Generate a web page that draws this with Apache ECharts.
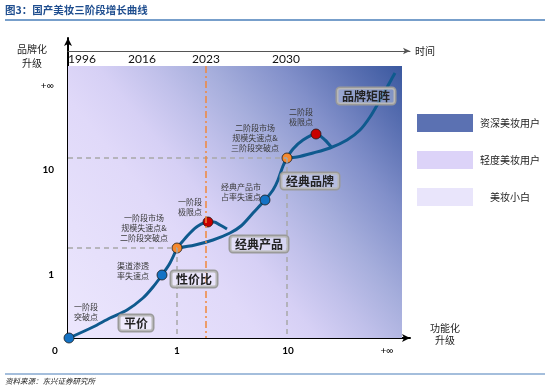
<!DOCTYPE html>
<html><head><meta charset="utf-8">
<script src="https://cdn.jsdelivr.net/npm/echarts@6/dist/echarts.min.js"></script>
<style>html,body{margin:0;padding:0;background:#fff}#c{width:550px;height:389px}</style>
</head><body><div id="c"></div>
<script>
// ---------- DATA ----------
const yearLabels = ['1996', '2016', '2023', '2030'];
const yearPos = [0.14, 0.74, 1.38, 2.18];
const xTickLabels = ['0', '1', '10', '+∞'];
const xTickPos = [0, 1.09, 2.20, 3.19];
const yTickLabels = ['1', '10', '+∞'];
const yTickPos = [0.63, 1.68, 2.52];

const stage1Curve = [[0.01, 0.00], [0.25, 0.11], [0.42, 0.20], [0.59, 0.28], [0.75, 0.40], [0.85, 0.51], [0.94, 0.63], [1.02, 0.75], [1.09, 0.90]];
const stage1Peak = [[1.09, 0.90], [1.14, 0.96], [1.22, 1.05], [1.30, 1.12], [1.40, 1.16], [1.46, 1.16], [1.52, 1.13], [1.59, 1.09]];
const stage2Curve = [[1.09, 0.90], [1.27, 0.93], [1.45, 0.98], [1.62, 1.05], [1.73, 1.12], [1.85, 1.25], [1.97, 1.38], [2.05, 1.48], [2.10, 1.58], [2.15, 1.72], [2.19, 1.80]];
const stage2Peak = [[2.19, 1.80], [2.25, 1.89], [2.35, 1.98], [2.48, 2.04], [2.57, 1.98], [2.64, 1.90]];
const stage3Curve = [[2.19, 1.80], [2.29, 1.81], [2.45, 1.85], [2.62, 1.90], [2.79, 1.98], [2.92, 2.08], [3.02, 2.21], [3.12, 2.38], [3.22, 2.56], [3.27, 2.65]];

const keyPoints = [[0.01, 0.00], [0.94, 0.63], [1.09, 0.90], [1.40, 1.16], [1.97, 1.38], [2.19, 1.80], [2.48, 2.04]];
const keyKinds = ['blue', 'blue', 'orange', 'red', 'blue', 'orange', 'red'];
const keyNotes = ['一阶段\n突破点', '渠道渗透\n率失速点', '一阶段市场\n规模失速点&\n二阶段突破点', '一阶段\n极限点',
  '经典产品市\n占率失速点', '二阶段市场\n规模失速点&\n三阶段突破点', '二阶段\n极限点'];

const stageNames = ['平价', '性价比', '经典产品', '经典品牌', '品牌矩阵'];
const stageAnchors = [[0.68, 0.15], [1.26, 0.59], [1.91, 0.94], [2.42, 1.57], [2.98, 2.42]];

const legendNames = ['资深美妆用户', '轻度美妆用户', '美妆小白'];
const zoneExtent = [3.34, 2.72];

// ---------- LAYOUT / STYLE ----------
const noteOffsets = [[17, -26], [-29, -4], [-33, -20], [-18, -15], [-24, -8], [-32, -20], [-15, -17]];
const kindColor = { blue: '#1472c4', orange: '#f5882e', red: '#c80000' };
const legendColors = ['#5b71b2', '#dcd3f8', '#e9e5fb'];
const CJK = '"Noto Sans CJK SC", "Noto Sans", sans-serif';
const NUM = 'Lato, "Liberation Sans", sans-serif';
const curveColor = '#0f5a8e';

function pick(vals, labels, v) {
  for (let i = 0; i < vals.length; i++) if (Math.abs(vals[i] - v) < 1e-6) return labels[i];
  return '';
}

const chart = echarts.init(document.getElementById('c'), null, { renderer: 'canvas' });

const curveSeries = [stage1Curve, stage1Peak, stage2Curve, stage2Peak, stage3Curve].map(d => ({
  type: 'line', data: d, smooth: 0.3, symbol: 'none', z: 3, silent: true,
  lineStyle: { color: curveColor, width: 3 }
}));

const o1 = keyPoints[2], o2 = keyPoints[5];
const guideStyle = { type: [5, 4], color: '#a8a8a8', width: 1.5 };

const option = {
  animation: false,
  title: [
    { text: '图3：国产美妆三阶段增长曲线', left: 5, top: 5, padding: 0,
      textStyle: { fontSize: 10.5, fontWeight: 'bold', color: '#1f4e8f', fontFamily: CJK } },
    { text: '品牌化\n升级', left: 32, top: 42, padding: 0, textAlign: 'center',
      textStyle: { fontSize: 10, fontWeight: 'normal', color: '#222', fontFamily: CJK, lineHeight: 14 } },
    { text: '功能化\n升级', left: 445, top: 322, padding: 0, textAlign: 'center',
      textStyle: { fontSize: 10, fontWeight: 'normal', color: '#222', fontFamily: CJK, lineHeight: 12 } },
    { text: '资料来源：东兴证券研究所', left: 5, top: 377, padding: 0,
      textStyle: { fontSize: 7.5, fontStyle: 'italic', fontWeight: 'normal', color: '#222', fontFamily: CJK } }
  ],
  graphic: [
    { type: 'line', shape: { x1: 5, y1: 20, x2: 545, y2: 20 }, style: { stroke: '#4a7fba', lineWidth: 1.5 } },
    { type: 'line', shape: { x1: 5, y1: 374, x2: 545, y2: 374 }, style: { stroke: '#4a7fba', lineWidth: 1.2 } }
  ],
  legend: {
    orient: 'vertical', left: 412, top: 109, itemWidth: 56, itemHeight: 18, itemGap: 19,
    icon: 'rect', selectedMode: false, data: legendNames,
    formatter: n => '{t|' + n + '}',
    textStyle: { rich: { t: { width: 64, align: 'center', fontSize: 10, fontFamily: CJK, color: '#222' } } }
  },
  grid: { left: 68, right: 140, top: 38, bottom: 51 },
  xAxis: [
    { type: 'value', min: 0, max: 3.42, position: 'bottom',
      axisLine: { show: true, symbol: ['none', 'arrow'], symbolSize: [6, 8], lineStyle: { color: '#000', width: 2 } },
      axisTick: { show: false }, splitLine: { show: false },
      axisLabel: { customValues: xTickPos, margin: 8, color: '#000',
        formatter: v => { const t = pick(xTickPos, xTickLabels, v); return v === 0 ? '{z|' + t + '}' : (t === '+∞' ? '{n|' + t + '}' : '{b|' + t + '}'); },
        rich: {
          z: { fontSize: 10, fontWeight: 'bold', fontFamily: NUM, color: '#000', padding: [0, 26, 0, 0] },
          b: { fontSize: 10, fontWeight: 'bold', fontFamily: NUM, color: '#000' },
          n: { fontSize: 10, fontFamily: NUM, color: '#000' }
        } } },
    { type: 'value', min: 0, max: 3.42, position: 'top', offset: -13,
      name: '时间', nameLocation: 'end', nameGap: 5,
      nameTextStyle: { fontSize: 10, fontFamily: CJK, color: '#222' },
      axisLine: { show: true, symbol: ['none', 'arrow'], symbolSize: [5, 7], lineStyle: { color: '#555', width: 1 } },
      axisTick: { show: false }, splitLine: { show: false },
      axisLabel: { inside: true, customValues: yearPos, margin: 2, fontSize: 12, fontFamily: NUM, color: '#111',
        formatter: v => pick(yearPos, yearLabels, v) } }
  ],
  yAxis: {
    type: 'value', min: 0, max: 3.0,
    axisLine: { show: true, symbol: ['none', 'arrow'], symbolSize: [6, 8], lineStyle: { color: '#000', width: 2 } },
    axisTick: { show: false }, splitLine: { show: false },
    axisLabel: { customValues: yTickPos, margin: 14,
      formatter: v => { const t = pick(yTickPos, yTickLabels, v); return t === '+∞' ? '{n|' + t + '}' : '{b|' + t + '}'; },
      rich: {
        b: { fontSize: 10, fontWeight: 'bold', fontFamily: NUM, color: '#000' },
        n: { fontSize: 10, fontFamily: NUM, color: '#000' }
      } }
  },
  series: [
    { type: 'line', data: [[0, 0]], symbol: 'none', silent: true, z: 0, lineStyle: { opacity: 0 },
      markArea: { silent: true,
        itemStyle: { color: new echarts.graphic.LinearGradient(0, 1, 1, 0, [
          { offset: 0, color: '#ece7fd' },
          { offset: 0.35, color: '#e0d9f9' },
          { offset: 0.45, color: '#d6d0f5' },
          { offset: 0.55, color: '#c0c0ea' },
          { offset: 0.65, color: '#a6aedc' },
          { offset: 0.78, color: '#8290ca' },
          { offset: 0.9, color: '#5a70b2' },
          { offset: 1, color: '#3a589f' }
        ]) },
        data: [[{ coord: [0, 0] }, { coord: zoneExtent }]] } },
    { type: 'line', data: [[0, 0]], symbol: 'none', silent: true, z: 1, lineStyle: { opacity: 0 },
      markLine: { silent: true, symbol: 'none', label: { show: false }, lineStyle: guideStyle,
        data: [
          [{ coord: [0, o1[1]] }, { coord: [o1[0], o1[1]] }],
          [{ coord: [o1[0], o1[1]] }, { coord: [o1[0], 0] }],
          [{ coord: [0, o2[1]] }, { coord: [o2[0], o2[1]] }],
          [{ coord: [o2[0], o2[1]] }, { coord: [o2[0], 0] }],
          [{ coord: [yearPos[2], zoneExtent[1]], lineStyle: { color: '#f0883c', type: [7, 3, 2, 3], width: 1.5 } },
           { coord: [yearPos[2], 0] }]
        ] } },
    ...curveSeries,
    { type: 'scatter', z: 4, symbolSize: 10, silent: true,
      data: keyPoints.map((p, i) => ({
        value: p,
        itemStyle: { color: kindColor[keyKinds[i]], borderColor: '#1a1a1a', borderWidth: 0.8, opacity: 1 },
        label: { show: true, formatter: keyNotes[i], position: 'inside', offset: noteOffsets[i],
          align: 'center', verticalAlign: 'middle', fontSize: 8, lineHeight: 10, color: '#3a3a3a', fontFamily: CJK }
      })) },
    { type: 'scatter', z: 5, symbolSize: 1, silent: true, itemStyle: { color: 'rgba(0,0,0,0)', opacity: 1 },
      data: stageNames.map((n, i) => ({ name: n, value: stageAnchors[i] })),
      label: { show: true, position: 'inside', formatter: '{b}', fontSize: 12, fontWeight: 'bold', color: '#222',
        fontFamily: CJK, borderColor: '#9a9a9a', borderWidth: 1.5, borderRadius: 3, padding: [2, 5],
        backgroundColor: 'rgba(255,255,255,0.3)' } },
    ...legendNames.map((n, i) => ({ type: 'scatter', name: n, data: [], itemStyle: { color: legendColors[i], opacity: 1 } }))
  ]
};
chart.setOption(option);
</script></body></html>
